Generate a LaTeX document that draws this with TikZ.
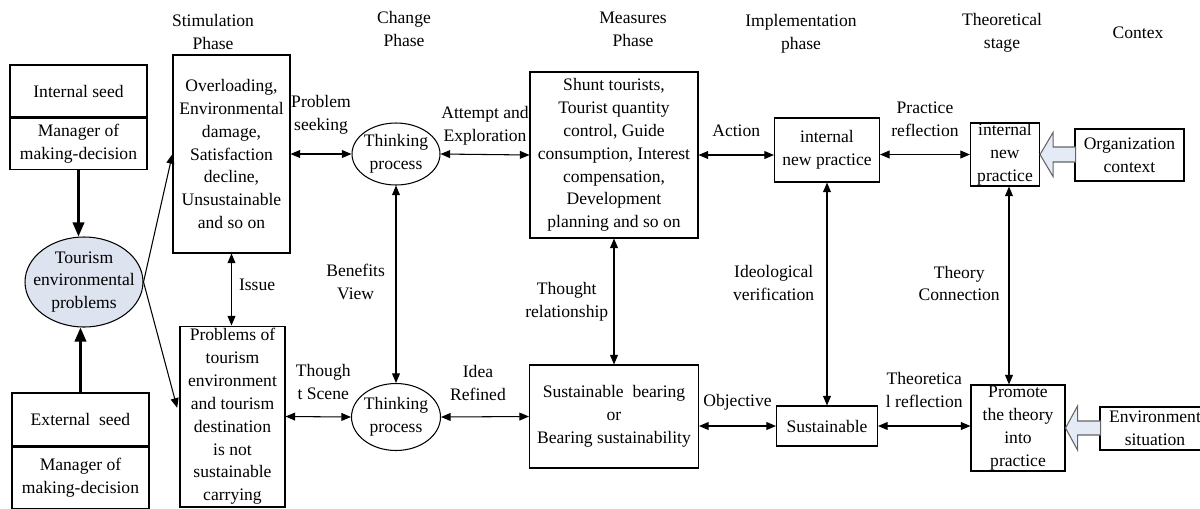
\documentclass[tikz,border=0pt]{standalone}
\usepackage{fontspec}
\setmainfont{Liberation Serif}
\usetikzlibrary{positioning,arrows.meta,shapes.geometric}
\definecolor{ellfill}{RGB}{221,228,240}
\definecolor{blkfill}{RGB}{228,234,246}
\definecolor{blkline}{RGB}{100,100,100}
\tikzset{
  box/.style={draw, line width=0.6pt, align=center, inner sep=1pt},
  oval/.style={draw, ellipse, line width=0.6pt, inner sep=0pt},
  lab/.style={align=center, inner sep=1pt},
  hdr/.style={align=center, inner sep=0pt},
  link/.style={line width=0.6pt, {Triangle[length=5.5pt,width=4.5pt]}-{Triangle[length=5.5pt,width=4.5pt]}},
  oneway/.style={line width=0.6pt, -{Triangle[length=5.5pt,width=4.5pt]}},
  feed/.style={line width=1.4pt, -{Triangle[length=8pt,width=6.5pt]}},
  blockarrow/.style={draw=blkline, fill=blkfill, line width=0.6pt}
}

\begin{document}
\begin{tikzpicture}[x=0.02cm, y=-0.02cm, font=\fontsize{10}{13}\selectfont]
\useasboundingbox (0,0) rectangle (1200,508);

% phase titles
\node[hdr] (hstim) at (213,32) {Stimulation\\Phase};
\node[hdr] (hchange) at (404,29) {Change\\Phase};
\node[hdr] (hmeas) at (633,29) {Measures\\Phase};
\node[hdr] (himpl) at (801,34) {Implementation\\phase};
\node[hdr] (htheo) at (1002,33) {Theoretical\\stage};
\node[hdr] (hctx) at (1138,33) {Contex};

% seeds and the problem
\node[box, minimum width=2.74cm, minimum height=1.04cm] (inseed) at (78.5,91) {Internal seed};
\node[box, minimum width=2.74cm, minimum height=1.02cm, below=0pt of inseed] (inmgr) {Manager of\\making-decision};
\node[box, minimum width=2.74cm, minimum height=1.06cm] (exseed) at (80.5,419.5) {External\ \ seed};
\node[box, minimum width=2.74cm, minimum height=1.22cm, below=0pt of exseed] (exmgr) {Manager of\\making-decision};
\node[oval, fill=ellfill, minimum width=2.36cm, minimum height=1.8cm] (tep) at (84,282) {};
\node[lab] (teptext) at (tep) {Tourism\\environmental\\problems};

% stimulation / change
\node[box, minimum width=2.34cm, minimum height=3.96cm] (stim) at (231.5,154) {Overloading,\\Environmental\\damage,\\Satisfaction\\decline,\\Unsustainable\\and so on};
\node[box, minimum width=2.1cm, minimum height=3.62cm] (prob) at (232.5,416.5) {Problems of\\tourism\\environment\\and tourism\\destination\\is not\\sustainable\\carrying};
\node[oval, minimum width=1.76cm, minimum height=1.24cm] (think1) at (396,154) {};
\node[lab] (think1text) at (think1) {Thinking\\process};
\node[oval, minimum width=1.78cm, minimum height=1.34cm] (think2) at (396,417) {};
\node[lab] (think2text) at (think2) {Thinking\\process};

% measures / implementation
\node[box, minimum width=3.36cm, minimum height=3.32cm] (meas) at (614,155) {Shunt tourists,\\Tourist quantity\\control, Guide\\consumption, Interest\\compensation,\\Development\\planning and so on};
\node[box, minimum width=3.38cm, minimum height=2.06cm] (bear) at (614,416.5) {Sustainable\ \ bearing\\or\\Bearing sustainability};
\node[box, minimum width=2.1cm, minimum height=1.28cm] (impl) at (827,150) {internal\\new practice};
\node[box, minimum width=2.02cm, minimum height=0.8cm] (sust) at (827,426) {Sustainable};

% theory / context
\node[box, inner sep=0pt, minimum width=1.38cm, minimum height=1.26cm] (theo) at (1005,154.5) {internal\\new\\practice};
\node[box, inner sep=0pt, minimum width=1.88cm, minimum height=1.72cm] (prom) at (1018,428) {Promote\\the theory\\into\\practice};
\node[box, minimum width=2.18cm, minimum height=1.04cm] (org) at (1129.5,155) {Organization\\context};
\node[box, minimum width=2.2cm, minimum height=0.86cm] (env) at (1155,428.5) {Environment\\situation};
\coordinate (theoft) at ([xshift=0.08cm]theo.south);

\path[feed]
(inmgr.south) edge (inmgr.south |- tep.north)
(exseed.north) edge (exseed.north |- tep.south);

\path[oneway]
(tep.east) edge (stim.west)
(tep.east) edge[shorten >=0.18cm] (prob.west);

\path[link]
(stim.south) edge node[lab, right=3pt, pos=0.44] {Issue} (stim.south |- prob.north)
(stim.east) edge node[lab, above=10pt] {Problem\\seeking} (think1.west)
(think1.east) edge node[lab, above=4pt] {Attempt and\\Exploration} (meas.west)
(meas.east) edge node[lab, above=9pt] {Action} (meas.east -| impl.west)
(impl.east |- theo.west) edge node[lab, above=9pt] {Practice\\reflection} (theo.west)
(prob.east) edge node[lab, above=8.5pt, xshift=0.1cm] {Though\\t Scene} (think2.west)
(think2.east) edge node[lab, above=8pt, xshift=-0.14cm] {Idea\\Refined} (bear.west)
(bear.east |- sust.west) edge node[lab, above=7.5pt] {Objective} (sust.west)
(sust.east) edge node[lab, above=9pt] {Theoretica\\l reflection} (sust.east -| prom.west)
(think1.south) edge node[lab, left=5pt, pos=0.49] {Benefits\\View} (think2.north)
(meas.south) edge node[lab, left=2pt, pos=0.5] {Thought\\relationship} (bear.north)
(impl.south) edge node[lab, left=6pt, pos=0.45] {Ideological\\verification} (sust.north)
(theoft) edge node[lab, left=4pt, pos=0.49] {Theory\\Connection} (theoft |- prom.north);

% context arrows
\draw[blockarrow] (theo.east) -- ++(13,-22) -- ++(0,14.5) -- ++(22.5,0) -- ++(0,15) -- ++(-22.5,0) -- ++(0,14.5) -- cycle;
\draw[blockarrow] (prom.east) -- ++(12,-22) -- ++(0,15) -- ++(23,0) -- ++(0,14) -- ++(-23,0) -- ++(0,15) -- cycle;

\end{tikzpicture}
\end{document}
